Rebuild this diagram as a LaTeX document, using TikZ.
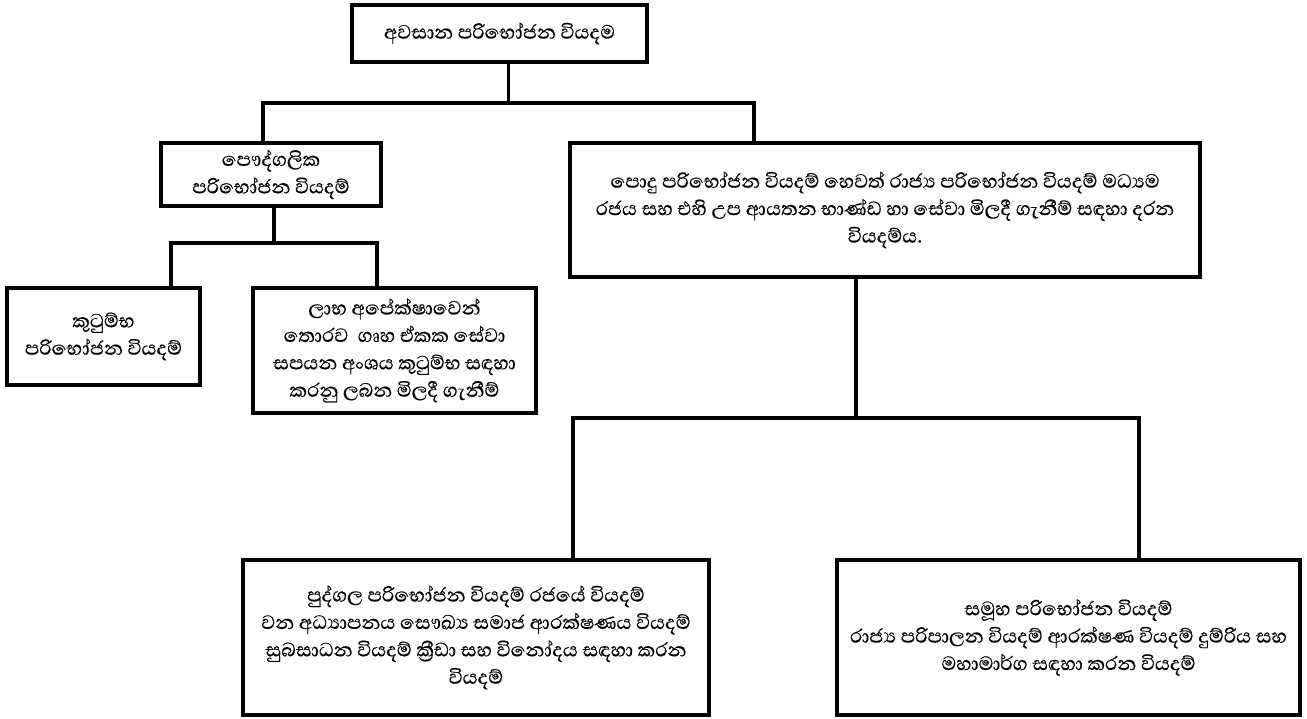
\documentclass[tikz,border=0pt]{standalone}
\usepackage{fontspec}
\newfontfamily\sinhala[Script=Sinhala,FakeBold=0.5]{Abhaya Libre}

\begin{document}
\begin{tikzpicture}[x=0.02cm,y=-0.02cm,
  box/.style={draw, line width=2.3pt, inner sep=0pt, align=center,
    font=\sinhala\fontsize{14}{15.6}\selectfont},
  link/.style={line width=2pt}]
\useasboundingbox (0,0) rectangle (1307,719);

% boxes
\node[box, minimum width=5.9cm, minimum height=1.14cm] (total) at (499.5,33.5) {අවසාන පරිභෝජන වියදම};
\node[box, minimum width=4.4cm, minimum height=1.26cm] (priv) at (271,174.5) {පෞද්ගලික\\පරිභෝජන වියදම්};
\node[box, minimum width=12.6cm, minimum height=2.68cm] (pub) at (885,210) {පොදු පරිභෝජන වියදම් හෙවත් රාජ්‍ය පරිභෝජන වියදම් මධ්‍යම\\රජය සහ එහි උප ආයතන භාණ්ඩ හා සේවා මිලදී ගැනීම් සඳහා දරන\\වියදම්ය.};
\node[box, minimum width=3.86cm, minimum height=1.94cm] (house) at (103.5,336.5) {කුටුම්භ\\පරිභෝජන වියදම්};
\node[box, minimum width=5.66cm, minimum height=2.5cm] (npish) at (394.5,350.5) {ලාභ අපේක්ෂාවෙන්\\තොරව\ \ ගෘහ ඒකක සේවා\\සපයන අංශය කුටුම්භ සඳහා\\කරනු ලබන මිලදී ගැනීම්};
\node[box, minimum width=9.32cm, minimum height=3.1cm] (indiv) at (476,637.5) {පුද්ගල පරිභෝජන වියදම් රජයේ වියදම්\\වන අධ්‍යාපනය සෞඛ්‍ය සමාජ ආරක්ෂණය වියදම්\\සුබසාධන වියදම් ක්‍රීඩා සහ විනෝදය සඳහා කරන\\වියදම්};
\node[box, minimum width=9.26cm, minimum height=3.1cm] (coll) at (1068.5,637.5) {සමූහ පරිභෝජන වියදම්\\රාජ්‍ය පරිපාලන වියදම් ආරක්ෂණ වියදම් දුම්රිය සහ\\මහාමාර්ග සඳහා කරන වියදම්};

% junctions
\coordinate (j1) at (508.5,103);
\coordinate (j1l) at (263,103);
\coordinate (j1r) at (754,103);
\coordinate (j2) at (274,243);
\coordinate (j2l) at (171,243);
\coordinate (j2r) at (377,243);
\coordinate (j3) at (856,418);
\coordinate (j3l) at (573,418);
\coordinate (j3r) at (1139,418);

% connectors
\draw[link] (total.south -| j1) -- (j1);
\draw[link] (priv.north -| j1l) -- (j1l) -- (j1r) -- (pub.north -| j1r);
\draw[link] (priv.south -| j2) -- (j2);
\draw[link] (house.north -| j2l) -- (j2l) -- (j2r) -- (npish.north -| j2r);
\draw[link] (pub.south -| j3) -- (j3);
\draw[link] (indiv.north -| j3l) -- (j3l) -- (j3r) -- (coll.north -| j3r);
\end{tikzpicture}
\end{document}
